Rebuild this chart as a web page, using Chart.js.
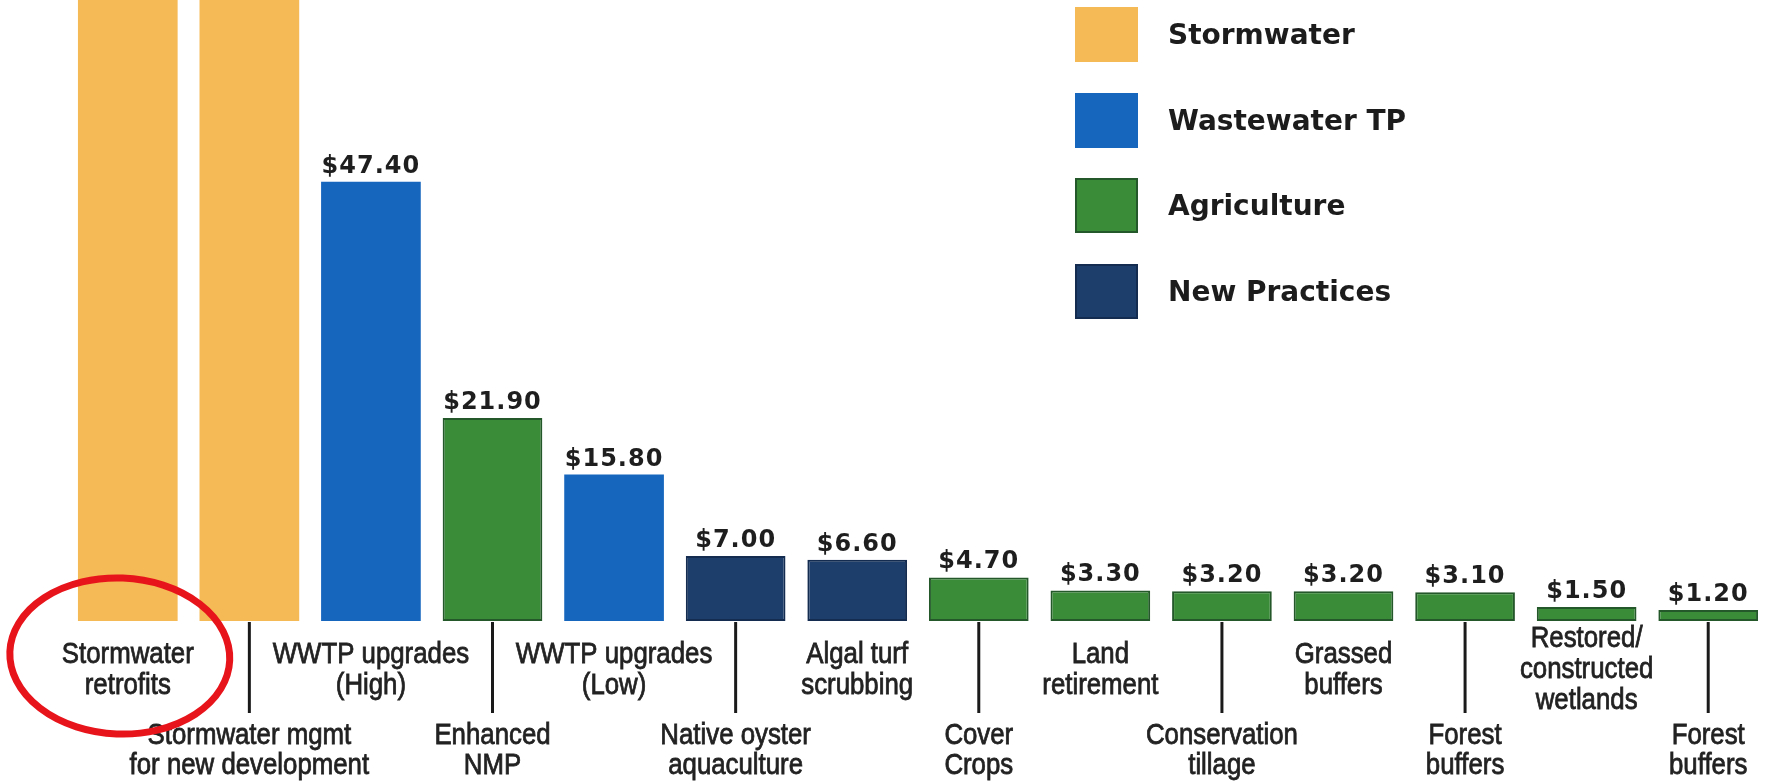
<!DOCTYPE html>
<html>
<head>
<meta charset="utf-8">
<title>Cost per pound of nitrogen reduced</title>
<script src="https://cdn.jsdelivr.net/npm/chart.js@4.4.1/dist/chart.umd.min.js"></script>
<style>
  html, body { margin: 0; padding: 0; background: #fff; }
  #wrap { position: relative; width: 1770px; height: 782px; }
  #legend { position: absolute; left: 1075px; top: 7px; font-family: "DejaVu Sans", sans-serif; }
  .item { display: flex; align-items: center; height: 55px; margin-bottom: 30.5px; }
  .swatch { width: 63px; height: 55px; box-sizing: border-box; }
  .item span { margin-left: 30px; font-weight: bold; font-size: 28px; color: #1c1c1c; }
</style>
</head>
<body>
<div id="wrap">
  <canvas id="costs"></canvas>
  <div id="legend"></div>
</div>
<script>
// practices, in the order shown (each entry = lines of the label)
const practices = [
  ["Stormwater", "retrofits"],
  ["Stormwater mgmt", "for new development"],
  ["WWTP upgrades", "(High)"],
  ["Enhanced", "NMP"],
  ["WWTP upgrades", "(Low)"],
  ["Native oyster", "aquaculture"],
  ["Algal turf", "scrubbing"],
  ["Cover", "Crops"],
  ["Land", "retirement"],
  ["Conservation", "tillage"],
  ["Grassed", "buffers"],
  ["Forest", "buffers"],
  ["Restored/", "constructed", "wetlands"],
  ["Forest", "buffers"]
];

// $ per pound; the two stormwater bars run off the top of the chart
const costs = [100, 100, 47.4, 21.9, 15.8, 7.0, 6.6, 4.7, 3.3, 3.2, 3.2, 3.1, 1.5, 1.2];

const sectors = [
  "Stormwater", "Stormwater", "Wastewater TP", "Agriculture", "Wastewater TP",
  "New Practices", "New Practices", "Agriculture", "Agriculture", "Agriculture",
  "Agriculture", "Agriculture", "Agriculture", "Agriculture"
];

const sectorNames = ["Stormwater", "Wastewater TP", "Agriculture", "New Practices"];
const sectorColors = ["#f5b955", "#1766be", "#3b8c39", "#1d3e6b"];
const sectorBorders = ["#f5b955", "#1766be", "#24582a", "#132c50"];

const yMax = 67;

function colorOf(name) {
  return sectorColors[sectorNames.indexOf(name)];
}
function borderOf(name) {
  return sectorBorders[sectorNames.indexOf(name)];
}

// condensed look: regular sans squeezed horizontally, a touch heavier
function narrowText(ctx, text, x, y) {
  ctx.save();
  ctx.translate(x, y);
  ctx.scale(0.86, 1);
  ctx.fillText(text, 0, 0);
  ctx.strokeText(text, 0, 0);
  ctx.restore();
}

const labelPlugin = {
  id: "barLabels",
  afterDatasetsDraw(chart) {
    const { ctx, chartArea } = chart;
    const xScale = chart.scales.x;
    const meta = chart.getDatasetMeta(0);
    const base = chartArea.bottom;

    ctx.save();

    // dollar values above the bars
    ctx.font = 'bold 24px "DejaVu Sans"';
    ctx.letterSpacing = "1px";
    ctx.fillStyle = "#1e1e1e";
    ctx.textAlign = "center";
    ctx.textBaseline = "alphabetic";
    meta.data.forEach((bar, i) => {
      if (costs[i] > yMax) return;
      ctx.fillText("$" + costs[i].toFixed(2), bar.x, bar.y - 9);
    });

    // category names, alternating rows; second row gets a leader line
    ctx.letterSpacing = "0px";
    ctx.font = '30px "Liberation Sans", Arial, sans-serif';
    ctx.fillStyle = "#222";
    const lh = 31;
    practices.forEach((lines, i) => {
      const px = xScale.getPixelForValue(i);
      if (i % 2 === 1) {
        ctx.beginPath();
        ctx.strokeStyle = "#1a1a1a";
        ctx.lineWidth = 3;
        ctx.moveTo(px, base + 1);
        ctx.lineTo(px, base + 92);
        ctx.stroke();
      }
      ctx.strokeStyle = "#222";
      ctx.lineWidth = 0.8;
      if (i % 2 === 0) {
        const first = base + 57 - (lines.length - 1) * lh / 2;
        lines.forEach((t, k) => narrowText(ctx, t, px, first + k * lh));
      } else {
        lines.forEach((t, k) => narrowText(ctx, t, px, base + 123 + k * 30));
      }
    });

    // red highlight ring round the first label
    ctx.beginPath();
    ctx.strokeStyle = "#e8141b";
    ctx.lineWidth = 7;
    ctx.ellipse(xScale.getPixelForValue(0) - 8, base + 35, 110, 78, 0.04, 0, Math.PI * 2);
    ctx.stroke();

    ctx.restore();
  }
};

new Chart(document.getElementById("costs"), {
  type: "bar",
  data: {
    labels: practices.map((l) => l.join(" ")),
    datasets: [
      {
        data: costs,
        backgroundColor: sectors.map(colorOf),
        borderColor: sectors.map(borderOf),
        borderWidth: sectors.map((s) => (s === "Agriculture" || s === "New Practices" ? 2 : 0)),
        borderSkipped: false,
        barPercentage: 0.82,
        categoryPercentage: 1
      }
    ]
  },
  options: {
    responsive: true,
    maintainAspectRatio: false,
    animation: false,
    layout: { padding: { left: 67, right: 1, top: 0, bottom: 161 } },
    scales: {
      x: { display: false },
      y: { display: false, min: 0, max: yMax }
    },
    plugins: {
      legend: { display: false },
      tooltip: { enabled: false }
    }
  },
  plugins: [labelPlugin]
});

const legend = document.getElementById("legend");
sectorNames.forEach((name, i) => {
  const item = document.createElement("div");
  item.className = "item";
  const sw = document.createElement("div");
  sw.className = "swatch";
  sw.style.background = sectorColors[i];
  sw.style.border = "2px solid " + sectorBorders[i];
  const txt = document.createElement("span");
  txt.textContent = name;
  item.appendChild(sw);
  item.appendChild(txt);
  legend.appendChild(item);
});
</script>
</body>
</html>
